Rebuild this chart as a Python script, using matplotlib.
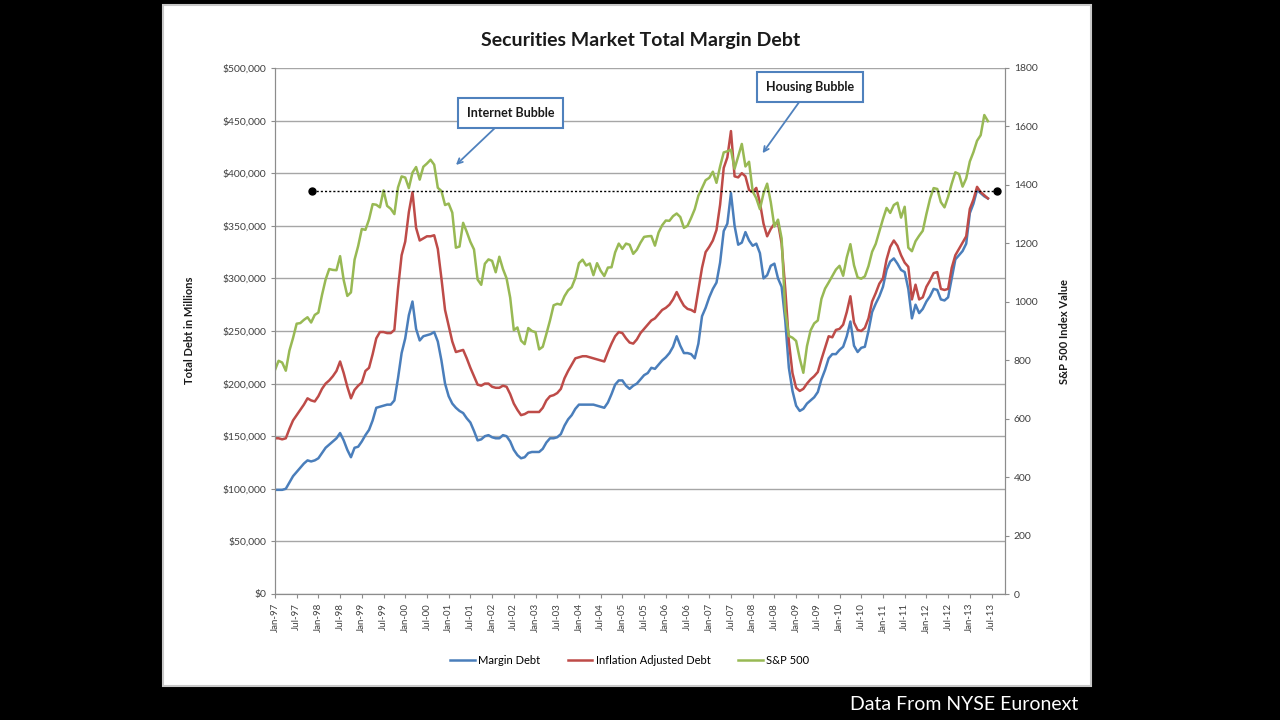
import matplotlib.pyplot as plt
from matplotlib.patches import Rectangle
from matplotlib.ticker import FuncFormatter

plt.rcParams['font.family'] = ['Lato', 'DejaVu Sans']

# monthly values, Jan-97 .. Jun-13
# margin debt in $ thousands of millions
margin_debt = [
    99, 99, 99, 100, 106, 112, 116, 120, 124, 127, 126, 127,
    129, 134, 139, 142, 145, 148, 153, 146, 137, 130, 139, 140,
    145, 151, 156, 165, 177, 178, 179, 180, 180, 184, 205, 229,
    243, 265, 278, 252, 241, 245, 246, 247, 249, 240, 222, 200,
    188, 181, 177, 174, 172, 167, 163, 155, 146, 147, 150, 151,
    149, 148, 148, 151, 150, 145, 137, 132, 129, 130, 134, 135,
    135, 135, 138, 144, 148, 148, 149, 152, 160, 166, 170, 176,
    180, 180, 180, 180, 180, 179, 178, 177, 182, 190, 199, 203,
    203, 198, 195, 198, 200, 204, 208, 210, 215, 214, 218, 222,
    225, 229, 235, 245, 236, 229, 229, 228, 224, 238, 264, 272,
    282, 290, 296, 315, 345, 352, 381, 350, 332, 334, 344, 336,
    331, 333, 324, 300, 303, 312, 314, 300, 292, 260, 215, 193,
    179, 174, 176, 181, 184, 187, 192, 204, 213, 224, 228, 228,
    232, 235, 245, 259, 236, 230, 234, 235, 250, 268, 276, 283,
    292, 308, 316, 319, 314, 308, 306, 290, 262, 275, 267, 271,
    278, 283, 290, 289, 280, 279, 282, 300, 318, 322, 326, 333,
    362, 371, 384, 381, 378, 376,
]

inflation_adjusted = [
    148, 148, 147, 148, 157, 165, 170, 175, 180, 186, 184, 183,
    188, 195, 200, 203, 207, 212, 221, 210, 197, 186, 194, 198,
    201, 212, 215, 228, 243, 249, 249, 248, 248, 251, 290, 322,
    335, 363, 382, 348, 336, 338, 340, 340, 341, 328, 300, 270,
    255, 240, 230, 231, 232, 224, 215, 207, 199, 198, 200, 200,
    197, 196, 196, 198, 197, 190, 181, 175, 170, 171, 173, 173,
    173, 173, 177, 184, 188, 189, 191, 195, 205, 212, 218, 224,
    225, 226, 226, 225, 224, 223, 222, 221, 230, 238, 245, 249,
    248, 243, 239, 238, 242, 248, 252, 256, 260, 262, 266, 270,
    272, 275, 280, 287, 280, 274, 271, 270, 268, 289, 310, 325,
    330, 336, 346, 370, 405, 415, 440, 397, 396, 400, 397, 384,
    382, 386, 372, 352, 340, 347, 352, 353, 333, 290, 240, 210,
    196, 193, 195, 200, 204, 207, 211, 223, 234, 245, 244, 251,
    252, 256, 268, 283, 258, 251, 250, 253, 262, 278, 286, 295,
    300, 318, 330, 336, 331, 322, 315, 311, 280, 294, 280, 282,
    292, 298, 305, 306, 290, 289, 290, 310, 322, 328, 334, 340,
    366, 375, 387, 382, 379, 376,
]

sp500 = [
    766, 798, 792, 764, 833, 876, 925, 927, 938, 947, 929, 955,
    963, 1023, 1076, 1112, 1109, 1108, 1156, 1074, 1020, 1032, 1144, 1191,
    1249, 1246, 1282, 1334, 1332, 1323, 1381, 1328, 1318, 1300, 1391, 1429,
    1425, 1389, 1442, 1461, 1418, 1462, 1473, 1486, 1469, 1390, 1379, 1331,
    1336, 1305, 1185, 1189, 1270, 1239, 1205, 1179, 1076, 1058, 1130, 1145,
    1140, 1101, 1154, 1112, 1080, 1014, 903, 912, 867, 855, 910, 900,
    896, 837, 846, 890, 936, 988, 993, 990, 1019, 1039, 1050, 1081,
    1132, 1144, 1124, 1131, 1091, 1132, 1106, 1088, 1117, 1118, 1169, 1199,
    1181, 1199, 1195, 1164, 1178, 1202, 1222, 1224, 1225, 1192, 1237, 1262,
    1278, 1277, 1293, 1302, 1290, 1253, 1260, 1287, 1317, 1363, 1389, 1416,
    1424, 1445, 1407, 1463, 1511, 1515, 1520, 1455, 1497, 1540, 1463, 1479,
    1378, 1354, 1317, 1371, 1404, 1341, 1257, 1281, 1217, 968, 883, 877,
    866, 806, 757, 848, 902, 926, 936, 1010, 1045, 1066, 1088, 1110,
    1123, 1089, 1152, 1197, 1125, 1083, 1079, 1087, 1122, 1171, 1198, 1241,
    1283, 1321, 1304, 1331, 1339, 1288, 1325, 1185, 1173, 1207, 1226, 1243,
    1300, 1352, 1389, 1386, 1341, 1323, 1359, 1404, 1443, 1437, 1394, 1422,
    1480, 1512, 1551, 1570, 1639, 1618,
]

years = list(range(97, 100)) + list(range(0, 14))
tick_labels = []
for yy in years:
    tick_labels.append(f"Jan-{yy:02d}")
    tick_labels.append(f"Jul-{yy:02d}")
tick_labels = tick_labels[:34]

# reference level (dotted line), months from Jan-97
ref_months = [10.3, 199.4]
ref_level = [383, 383]

months = list(range(len(margin_debt)))

fig = plt.figure(figsize=(12.8, 7.2), dpi=100, facecolor='black')
fig.patches.append(Rectangle((0.1273, 0.0472), 0.725, 0.9458, transform=fig.transFigure,
                             facecolor='white', edgecolor='#c8c8c8', lw=1.5, zorder=-1))

ax = fig.add_axes([0.2148, 0.175, 0.5703, 0.7306])
ax2 = ax.twinx()

l1, = ax.plot(months, margin_debt, color='#4a7ebb', lw=1.8)
l2, = ax.plot(months, inflation_adjusted, color='#be4b48', lw=1.8)
l3, = ax2.plot(months, sp500, color='#98b954', lw=1.8)
ax2.plot(ref_months, [v * 1800 / 500 for v in ref_level], color='black', lw=1,
         ls=(0, (1.5, 1.5)), marker='o', ms=5)

ax.set_xlim(0, 201.7)
ax.set_ylim(0, 500)
ax2.set_ylim(0, 1800)

ax.set_yticks(range(0, 501, 50))
ax.yaxis.set_major_formatter(FuncFormatter(lambda v, p: f"${v * 1000:,.0f}"))
ax2.set_yticks(range(0, 1801, 200))

ax.set_xticks(range(0, 199, 6))
ax.set_xticklabels(tick_labels, rotation=90, fontsize=7, color='#404040')

ax.yaxis.grid(True, color='#a6a6a6', lw=1)
ax.set_axisbelow(True)

for a in (ax, ax2):
    for s in a.spines.values():
        s.set_color('#8c8c8c')
    a.spines['top'].set_visible(False)
    a.tick_params(axis='y', labelsize=7.5, length=3, color='#8c8c8c', labelcolor='#404040')
ax.tick_params(axis='x', length=3, color='#8c8c8c')

ax.annotate('Internet Bubble', xy=(0.248, 0.8156), xycoords='axes fraction',
            xytext=(0.323, 0.9144), textcoords='axes fraction',
            ha='center', va='center', fontsize=9, weight='bold', color='#1a1a1a',
            bbox=dict(boxstyle='square,pad=0.7', fc='white', ec='#4f81bd', lw=1.5),
            arrowprops=dict(arrowstyle='->', color='#4f81bd', lw=1.3, shrinkA=0, shrinkB=0))
ax.annotate('Housing Bubble', xy=(0.668, 0.838), xycoords='axes fraction',
            xytext=(0.733, 0.964), textcoords='axes fraction',
            ha='center', va='center', fontsize=9, weight='bold', color='#1a1a1a',
            bbox=dict(boxstyle='square,pad=0.7', fc='white', ec='#4f81bd', lw=1.5),
            arrowprops=dict(arrowstyle='->', color='#4f81bd', lw=1.3, shrinkA=0, shrinkB=0))

fig.text(0.5008, 0.944, 'Securities Market Total Margin Debt', ha='center', va='center',
         fontsize=14, weight='bold', color='#1a1a1a')
fig.text(0.148, 0.542, 'Total Debt in Millions', rotation=90, ha='center', va='center',
         fontsize=8, weight='bold', color='#1a1a1a')
fig.text(0.832, 0.54, 'S&P 500 Index Value', rotation=90, ha='center', va='center',
         fontsize=8, weight='bold', color='#1a1a1a')

fig.legend([l1, l2, l3], ['Margin Debt', 'Inflation Adjusted Debt', 'S&P 500'],
           loc='center', bbox_to_anchor=(0.492, 0.083), ncol=3, frameon=False,
           fontsize=8, handlelength=2.2, columnspacing=2.5, handletextpad=0.3)

fig.text(0.842, 0.021, 'Data From NYSE Euronext', ha='right', va='center',
         fontsize=14, color='white')

fig.savefig('out.png', dpi=100, facecolor='black')
